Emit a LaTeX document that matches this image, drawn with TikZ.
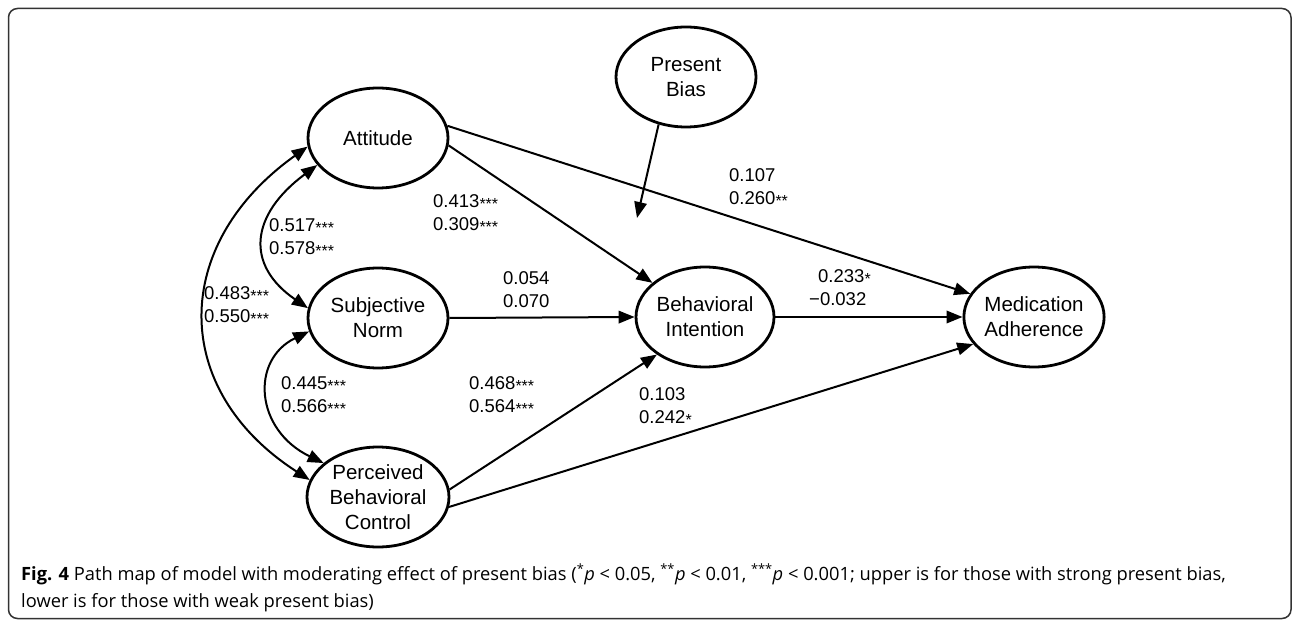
\documentclass[tikz,border=0pt]{standalone}
\usepackage{fontspec}
\setmainfont{Open Sans}
\newfontfamily\arialf{Liberation Sans}
\usetikzlibrary{shapes.geometric,arrows.meta}
\newcommand\stars[1]{\raisebox{-2pt}{\fontsize{16}{16}\selectfont #1}}
\begin{document}
\begin{tikzpicture}[x=1pt,y=-1pt,
  ellnode/.style={ellipse, draw, line width=2.8pt, inner sep=0pt,
    minimum width=140pt, minimum height=100pt,
    font=\arialf\fontsize{20.5}{25}\selectfont, align=center},
  lbl/.style={anchor=west, align=left, inner sep=0pt,
    font=\arialf\fontsize{18.5}{23}\selectfont},
  pathar/.style={line width=2pt, -{Triangle[length=16pt,width=12.5pt]}},
  bidir/.style={line width=2pt, {Triangle[length=16pt,width=12.5pt]}-{Triangle[length=16pt,width=12.5pt]}},
  captxt/.style={anchor=base west, inner sep=0pt, font=\fontsize{18.3}{22}\selectfont}
]
\useasboundingbox (0,0) rectangle (1292,620);
\draw[line width=1.5pt, black!80, rounded corners=9pt] (8.5,8.5) rectangle (1291,618.5);

\node[ellnode] (att) at (378,138) {Attitude};
\node[ellnode] (sn)  at (378,318) {Subjective\\Norm};
\node[ellnode, minimum width=142pt] (pbc) at (378,497) {Perceived\\Behavioral\\Control};
\node[ellnode] (pb)  at (686,77) {Present\\Bias};
\node[ellnode, minimum width=138pt] (bi)  at (705,317) {Behavioral\\Intention};
\node[ellnode] (ma)  at (1034,317) {Medication\\Adherence};
\coordinate (mod) at (637,218);

% directed paths
\draw[pathar] (att.354) -- (bi.147);
\draw[pathar] (att.10) -- (ma.160);
\draw[pathar] (sn.east) -- (bi.west);
\draw[pathar] (bi.east) -- (ma.west);
\draw[pathar] (pbc.6) -- (bi.218);
\draw[pathar] (pbc.352) -- (ma.204);
\draw[pathar] (pb.240) -- (mod);

% correlations
\draw[bidir] (att.187) .. controls (170,245) and (170,390) .. (pbc.166);
\draw[bidir] (att.204) .. controls (250,215) and (245,265) .. (sn.172);
\draw[bidir] (sn.191) .. controls (250,360) and (255,430) .. (pbc.148);

% labels
\node[lbl] (l1) at (269,238) {0.517\stars{***}\\0.578\stars{***}};
\node[lbl] (l2) at (433,214) {0.413\stars{***}\\0.309\stars{***}};
\node[lbl] (l3) at (204,306) {0.483\stars{***}\\0.550\stars{***}};
\node[lbl] (l4) at (503,290) {0.054\\0.070};
\node[lbl] (l5) at (281,396) {0.445\stars{***}\\0.566\stars{***}};
\node[lbl] (l6) at (469,396) {0.468\stars{***}\\0.564\stars{***}};
\node[lbl] (l7) at (729,188) {0.107\\0.260\stars{**}};
\node[lbl] (l8) at (809,288) {\hspace*{9pt}0.233\stars{*}\\−0.032};
\node[lbl] (l9) at (639,407) {0.103\\0.242\stars{*}};

% caption
\node[captxt] (c1) at (21,580) {\textbf{Fig. 4} Path map of model with moderating effect of present bias (\textsuperscript{*}\textit{p} < 0.05, \textsuperscript{**}\textit{p} < 0.01, \textsuperscript{***}\textit{p} < 0.001; upper is for those with strong present bias,};
\node[captxt] (c2) at (21,607) {lower is for those with weak present bias)};
\end{tikzpicture}
\end{document}
